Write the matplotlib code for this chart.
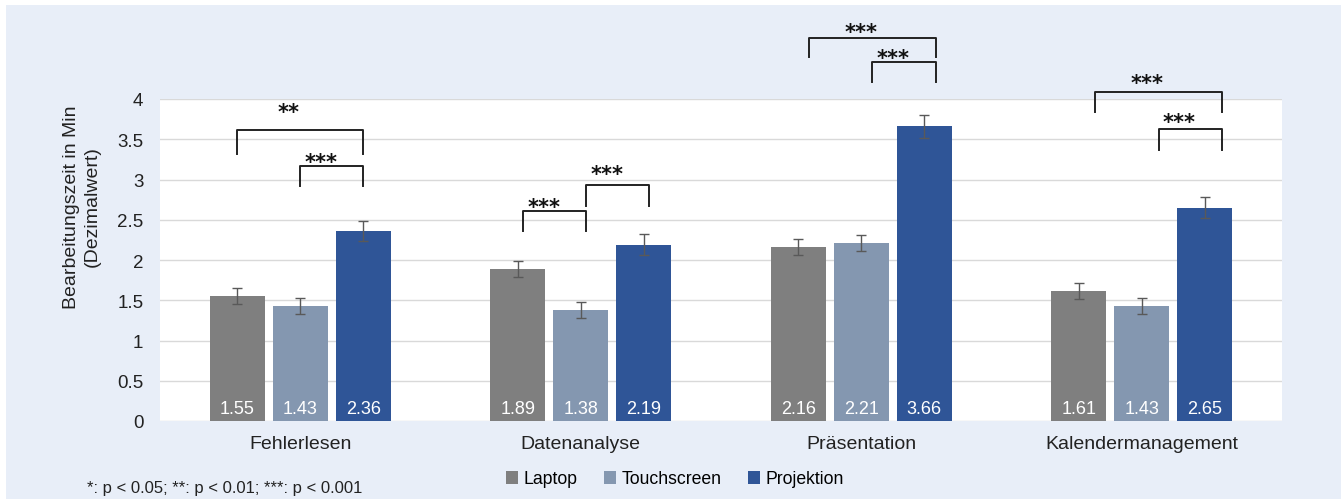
import numpy as np
import matplotlib.pyplot as plt
from matplotlib.patches import Patch, Rectangle

plt.rcParams['font.family'] = ['Liberation Sans', 'DejaVu Sans']

# Daten
categories = ["Fehlerlesen", "Datenanalyse", "Präsentation", "Kalendermanagement"]
series = ["Laptop", "Touchscreen", "Projektion"]
laptop = [1.55, 1.89, 2.16, 1.61]
touchscreen = [1.43, 1.38, 2.21, 1.43]
projektion = [2.36, 2.19, 3.66, 2.65]
err_laptop = [0.10, 0.10, 0.10, 0.10]
err_touchscreen = [0.10, 0.10, 0.10, 0.10]
err_projektion = [0.13, 0.13, 0.14, 0.13]
colors = ["#7f7f7f", "#8497b0", "#2f5597"]

# Signifikanz-Klammern: (Gruppe, von Balken, bis Balken, Oberkante, Bein links, Bein rechts, Stern-Hoehe, Text)
brackets = [
    (0, 0, 2, 3.62, 3.32, 3.32, 3.91, "**"),
    (0, 1, 2, 3.17, 2.92, 2.92, 3.29, "***"),
    (1, 0, 1, 2.61, 2.36, 2.36, 2.73, "***"),
    (1, 1, 2, 2.93, 2.67, 2.67, 3.15, "***"),
    (2, 0, 2, 4.76, 4.52, 4.52, 4.91, "***"),
    (2, 1, 2, 4.46, 4.21, 4.21, 4.58, "***"),
    (3, 0, 2, 4.09, 3.84, 3.84, 4.27, "***"),
    (3, 1, 2, 3.63, 3.37, 3.37, 3.79, "***"),
]
bracket_shift = [0.0, 0.02, 0.04, 0.06]

fig = plt.figure(figsize=(13.41, 5.02), dpi=100)
fig.patch.set_facecolor("white")
fig.patches.append(Rectangle((6 / 1341, 2 / 502), 1, 1 - 8 / 502, transform=fig.transFigure,
                             facecolor="#e8eef8", edgecolor="none", zorder=-10))

ax = fig.add_axes([160 / 1341, 1 - 422 / 502, 1122 / 1341, 322 / 502])
ax.set_facecolor("white")

x = np.arange(len(categories))
width = 0.196
step = 0.225
values = [laptop, touchscreen, projektion]
errors = [err_laptop, err_touchscreen, err_projektion]

for i, (vals, errs) in enumerate(zip(values, errors)):
    pos = x + (i - 1) * step
    ax.bar(pos, vals, width, color=colors[i], zorder=3, label=series[i])
    ax.errorbar(pos, vals, yerr=errs, fmt="none", ecolor="#595959", elinewidth=1,
                capsize=3.5, capthick=1, zorder=4)
    for p, v in zip(pos, vals):
        ax.text(p, 0.1, f"{v:.2f}", ha="center", va="baseline", color="white", fontsize=13, zorder=5)

# Klammern mit Sternen
star_fs = 15
for g, b1, b2, top, leg1, leg2, star_y, label in brackets:
    x1 = g + (b1 - 1) * step + bracket_shift[g]
    x2 = g + (b2 - 1) * step + bracket_shift[g]
    ax.plot([x1, x1, x2, x2], [leg1, top, top, leg2], color="#222222", lw=1.4,
            clip_on=False, zorder=6)
    ax.annotate(label, ((x1 + x2) / 2 - 0.04, star_y), xytext=(0, -0.58 * star_fs),
                textcoords="offset points", ha="center", va="baseline",
                fontsize=star_fs, family="DejaVu Sans", fontweight="bold",
                color="#111111", annotation_clip=False)

ax.set_xlim(-0.5, 3.5)
ax.set_ylim(0, 4)
ax.set_yticks(np.arange(0, 4.01, 0.5))
ax.set_yticklabels(["0", "0.5", "1", "1.5", "2", "2.5", "3", "3.5", "4"])
ax.set_xticks(x)
ax.set_xticklabels(categories)
ax.tick_params(axis="y", length=0, pad=12, labelsize=13.5, labelcolor="#222222")
ax.tick_params(axis="x", length=0, pad=10, labelsize=14, labelcolor="#222222")
ax.yaxis.grid(True, color="#d9d9d9", lw=1, zorder=0)
for s in ax.spines.values():
    s.set_visible(False)

ax.set_ylabel("Bearbeitungszeit in Min\n(Dezimalwert)", fontsize=14, color="#222222", linespacing=1.25)
ax.yaxis.set_label_coords(-0.053, 0.668)

handles = [Patch(facecolor=c, edgecolor="none") for c in colors]
fig.legend(handles, series, loc="center", bbox_to_anchor=(675 / 1341, 1 - 480 / 502), ncol=3,
           frameon=False, fontsize=12.7, handlelength=0.7, handleheight=0.7, handletextpad=0.3,
           columnspacing=1.5)

fig.text(87 / 1341, 1 - 489 / 502, "*: p < 0.05; **: p < 0.01; ***: p < 0.001", fontsize=12,
         va="center", ha="left", color="#222222")

fig.savefig("out.png", dpi=100, facecolor=fig.get_facecolor())
